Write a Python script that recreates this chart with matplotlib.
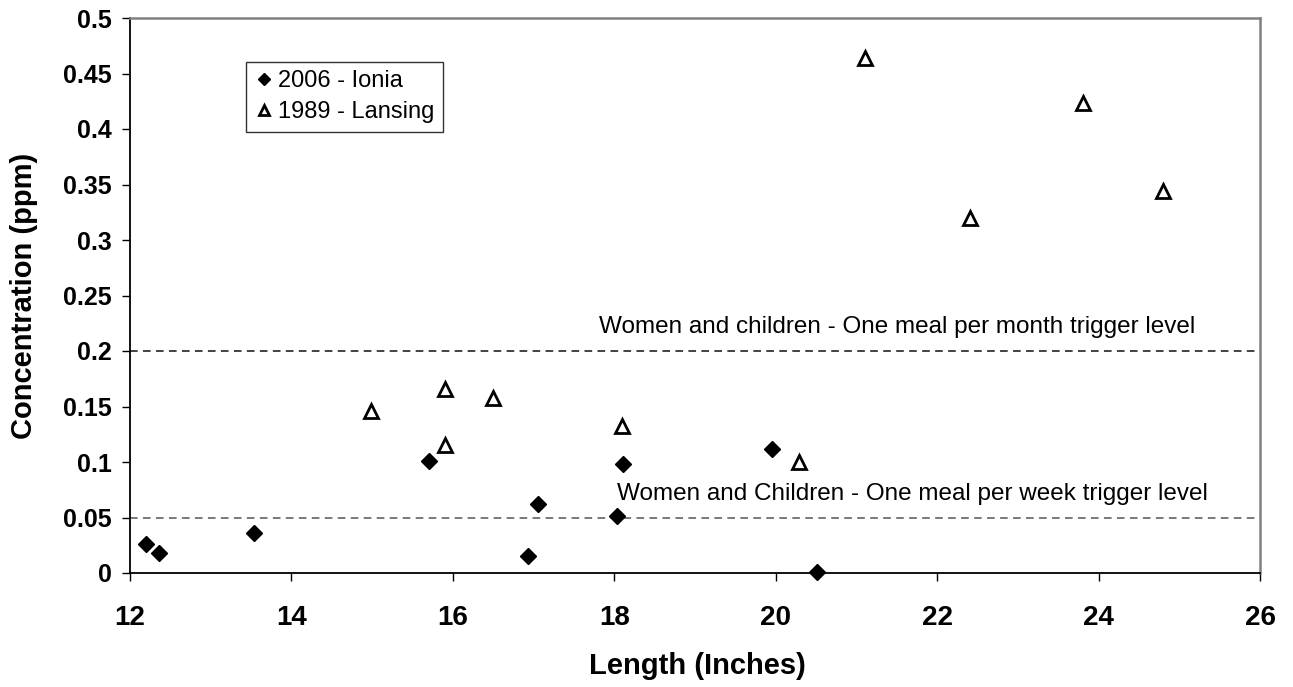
import matplotlib
matplotlib.use("Agg")
import matplotlib.pyplot as plt

# Data
ionia_len = [12.20, 12.36, 13.54, 15.71, 16.93, 17.05, 18.03, 18.11, 19.95, 20.51]
ionia_conc = [0.026, 0.018, 0.036, 0.101, 0.015, 0.062, 0.051, 0.098, 0.112, 0.001]
lansing_len = [14.99, 15.90, 15.90, 16.50, 18.10, 20.29, 21.11, 22.41, 23.81, 24.80]
lansing_conc = [0.146, 0.166, 0.115, 0.158, 0.132, 0.100, 0.464, 0.320, 0.423, 0.344]
month_level = 0.2
week_level = 0.05
month_label = "Women and children - One meal per month trigger level"
week_label = "Women and Children - One meal per week trigger level"
xticks = [12, 14, 16, 18, 20, 22, 24, 26]
yticks = [0, 0.05, 0.1, 0.15, 0.2, 0.25, 0.3, 0.35, 0.4, 0.45, 0.5]
ytick_labels = ["0", "0.05", "0.1", "0.15", "0.2", "0.25", "0.3", "0.35", "0.4", "0.45", "0.5"]

plt.rcParams['font.family'] = ['Liberation Sans', 'DejaVu Sans']

fig = plt.figure(figsize=(12.93, 6.87), dpi=100)
ax = fig.add_axes([130/1293, (687-573)/687, (1260-130)/1293, (573-18)/687])

ax.axhline(month_level, color='#101010', lw=1.1, ls=(0, (5, 3.5)), zorder=1)
ax.axhline(week_level, color='#555555', lw=1.1, ls=(0, (5, 3.5)), zorder=1)

ax.plot(ionia_len, ionia_conc, ls='none', marker='D', ms=7.8, mfc='black', mec='black',
        label='2006 - Ionia', zorder=3, clip_on=False)
ax.plot(lansing_len, lansing_conc, ls='none', marker='^', ms=9.5, mfc='white', mec='black',
        mew=2.0, label='1989 - Lansing', zorder=3, clip_on=False)

ax.text(17.81, 0.2165, month_label, fontsize=17.5, va='baseline', ha='left')
ax.text(18.03, 0.0658, week_label, fontsize=17.5, va='baseline', ha='left')

ax.set_xlim(12, 26)
ax.set_ylim(0, 0.5)
ax.set_xticks(xticks)
ax.set_xticklabels([str(v) for v in xticks], fontsize=20, fontweight='bold')
ax.set_yticks(yticks)
ax.set_yticklabels(ytick_labels, fontsize=18, fontweight='bold')
ax.tick_params(axis='both', direction='out', length=6, width=1, color='black')
ax.tick_params(axis='x', pad=17)
ax.tick_params(axis='y', pad=7)

for s in ['left', 'bottom']:
    ax.spines[s].set_color('black')
    ax.spines[s].set_linewidth(1.3)
for s in ['top', 'right']:
    ax.spines[s].set_color('#808080')
    ax.spines[s].set_linewidth(1.8)

ax.set_xlabel('Length (Inches)', fontsize=21, fontweight='bold')
ax.set_ylabel('Concentration (ppm)', fontsize=21, fontweight='bold')
ax.xaxis.set_label_coords(0.502, -0.142)
ax.yaxis.set_label_coords(-0.0814, 0.5)

leg = ax.legend(loc='upper left', bbox_to_anchor=((246-130)/1130, (573-62)/555),
                fontsize=17, frameon=True, fancybox=False, edgecolor='black',
                handletextpad=0.2, handlelength=0.8, borderpad=0.35, labelspacing=0.38,
                borderaxespad=0, markerscale=0.8)
leg.get_frame().set_linewidth(1.0)

fig.savefig('out.png', dpi=100)
